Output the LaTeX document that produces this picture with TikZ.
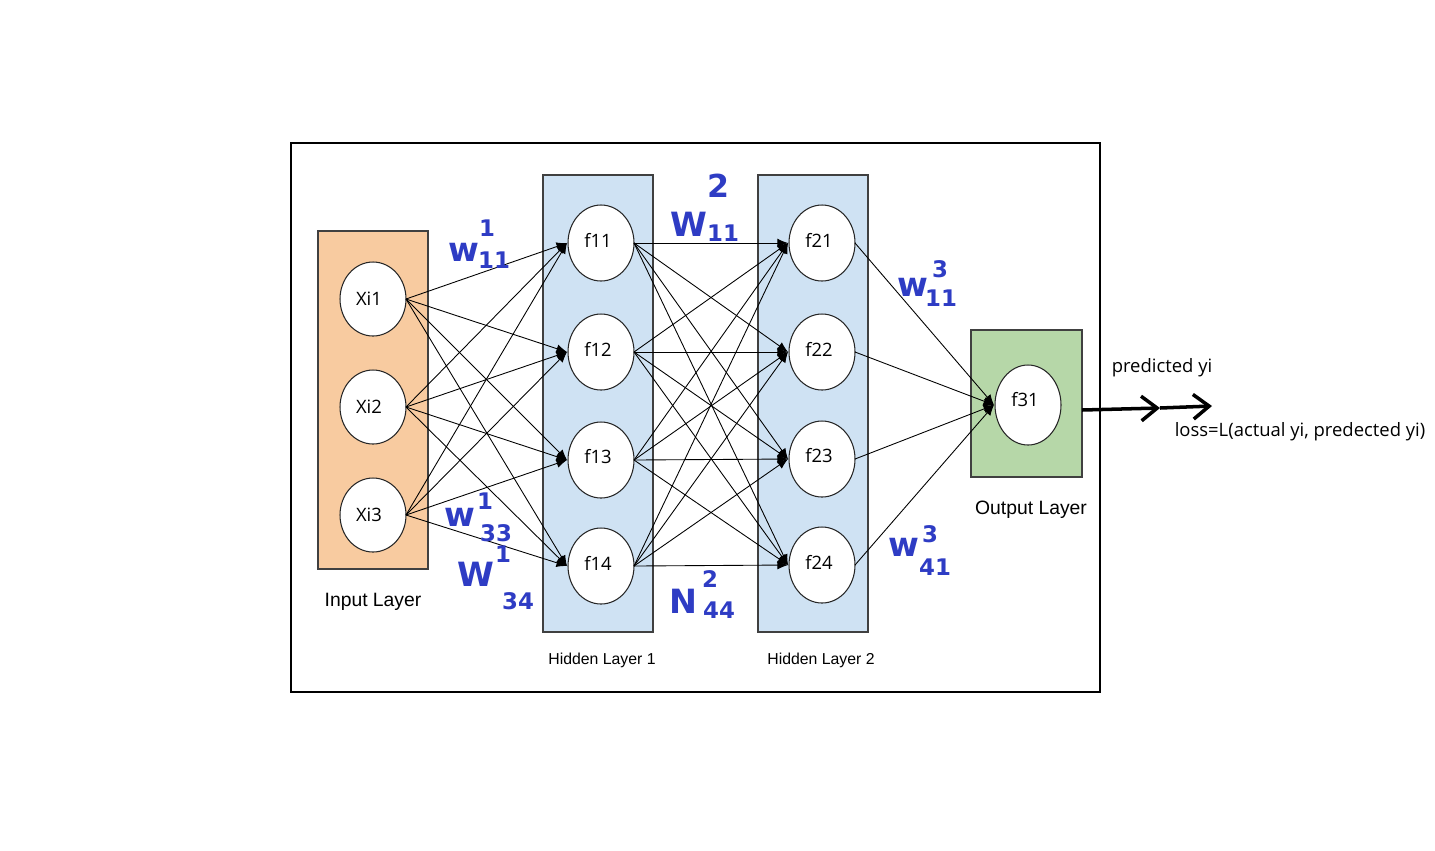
\documentclass[tikz,border=0pt]{standalone}
\usepackage{fontspec}
\setmainfont{Open Sans}
\newfontfamily\arialf{Liberation Sans}
\newfontfamily\handf{DejaVu Sans}
\usetikzlibrary{arrows.meta}
\definecolor{inorange}{HTML}{F8CBA0}
\definecolor{hidblue}{HTML}{CFE2F3}
\definecolor{outgreen}{HTML}{B6D7A8}
\definecolor{handblue}{HTML}{2E3CC4}
\begin{document}
\begin{tikzpicture}[x=0.02cm,y=-0.02cm,
  layerbox/.style={draw=black!75,line width=0.8pt},
  conn/.style={-{Latex[length=6pt,width=5pt]},line width=0.5pt},
  hand/.style={text=handblue,inner sep=0pt,font=\handf\bfseries\fontsize{19}{20}\selectfont},
  handidx/.style={text=handblue,inner sep=0pt,font=\handf\bfseries\fontsize{13}{14}\selectfont},
  ntext/.style={font=\fontsize{10.5}{12}\selectfont},
  lbl/.style={font=\arialf\fontsize{11}{13}\selectfont},
  lblsmall/.style={font=\arialf\fontsize{9}{11}\selectfont}]
\useasboundingbox (0,0) rectangle (1435,850);
\fill[white] (0,0) rectangle (1435,850);
% frame
\draw[line width=0.6pt] (291,143) rectangle (1100,692);
% layer boxes
\draw[layerbox,fill=inorange] (318,231) rectangle (428,569);
\draw[layerbox,fill=hidblue] (543,175) rectangle (653,632);
\draw[layerbox,fill=hidblue] (758,175) rectangle (868,632);
\draw[layerbox,fill=outgreen] (971,330) rectangle (1082,477);
% neurons
\tikzset{nrn/.style={draw=black!85,fill=white,line width=0.6pt}}
\foreach \n/\x/\y/\t in {x1/373/299/Xi1,x2/373/407/Xi2,x3/373/515/Xi3}{
  \draw[nrn] (\x,\y) ellipse [x radius=33, y radius=37];
  \coordinate (\n e) at (\x+33,\y);
  \node[ntext] (\n) at (\x-4,\y) {\t};
}
\foreach \n/\x/\y/\t in {a1/601/243/f11,a2/601/352/f12,a3/601/460/f13,a4/601/566/f14,b1/822/243/f21,b2/822/352/f22,b3/822/459/f23,b4/822/565/f24}{
  \draw[nrn] (\x,\y) ellipse [x radius=33, y radius=38];
  \coordinate (\n w) at (\x-34,\y);
  \coordinate (\n e) at (\x+33,\y);
  \node[ntext] (\n) at (\x-3,\y-3) {\t};
}
\draw[nrn] (1028,405) ellipse [x radius=33, y radius=40];
\coordinate (ow) at (994,405);
\coordinate (oe) at (1061,405);
\node[ntext] (o) at (1025,400) {f31};
% connections
\foreach \i in {1,2,3}{\foreach \j in {1,2,3,4}{\draw[conn] (x\i e) -- (a\j w);}}
\foreach \i in {1,2,3,4}{\foreach \j in {1,2,3,4}{\draw[conn] (a\i e) -- (b\j w);}}
\foreach \i in {1,2,3,4}{\draw[conn] (b\i e) -- (ow);}
% output arrow
\coordinate (outs) at (1082,410);
\coordinate (outm) at (1160,408);
\coordinate (oute) at (1212,406);
\draw[line width=2pt,-{Straight Barb[length=9pt,width=14pt,line width=2pt]}] (outs) -- (outm);
\draw[line width=2pt,-{Straight Barb[length=9pt,width=14pt,line width=2pt]}] (outm) -- (oute);
\node[ntext] (pred) at (1162,368) {predicted yi};
\node[ntext] (loss) at (1300,432) {loss=L(actual yi, predected yi)};
% layer labels
\node[lbl] (lin) at (373,602) {Input Layer};
\node[lblsmall] (lh1) at (602,660) {Hidden Layer 1};
\node[lblsmall] (lh2) at (821,660) {Hidden Layer 2};
\node[lbl] (lout) at (1031,510) {Output Layer};
% handwritten weight labels
\node[hand] (w111) at (464,252) {w};
\node[handidx] (w111s) at (487,228) {1};
\node[handidx] (w111b) at (494,260) {11};
\node[hand] (w211) at (689,224) {W};
\node[handidx,font=\handf\bfseries\fontsize{18}{20}\selectfont] (w211s) at (718,186) {2};
\node[handidx] (w211b) at (723,233) {11};
\node[hand] (w311) at (913,287) {w};
\node[handidx] (w311s) at (940,269) {3};
\node[handidx] (w311b) at (941,298) {11};
\node[hand] (w133) at (460,517) {w};
\node[handidx] (w133s) at (485,501) {1};
\node[handidx] (w133b) at (496,533) {33};
\node[hand] (w134) at (476,574) {W};
\node[handidx] (w134s) at (503,554) {1};
\node[handidx] (w134b) at (518,601) {34};
\node[hand] (w244) at (683,601) {N};
\node[handidx] (w244s) at (710,579) {2};
\node[handidx] (w244b) at (719,610) {44};
\node[hand] (w341) at (904,547) {w};
\node[handidx] (w341s) at (930,534) {3};
\node[handidx] (w341b) at (935,567) {41};
\end{tikzpicture}
\end{document}
